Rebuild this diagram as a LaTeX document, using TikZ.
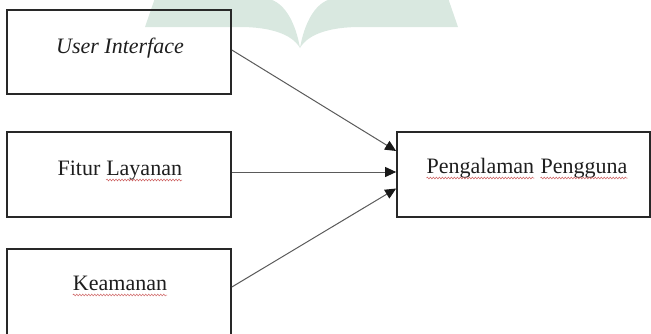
\documentclass[tikz,border=0pt]{standalone}
\usepackage{fontspec}
\setmainfont{Liberation Serif}
\usetikzlibrary{arrows.meta,decorations.pathmorphing}
\definecolor{wm}{RGB}{217,232,224}
\definecolor{wavered}{RGB}{205,95,95}
\definecolor{txt}{RGB}{30,30,30}
\definecolor{edge}{RGB}{40,40,40}
\definecolor{conn}{RGB}{90,90,90}
\definecolor{tip}{RGB}{25,25,25}
\newcommand\redwave[1]{\tikz[baseline=(wd.base)]{\node[inner sep=0pt] (wd) {#1};
  \draw[wavered, line width=0.5pt, decorate, decoration={snake, amplitude=0.9pt, segment length=3pt}]
  ([yshift=-5pt]wd.base west) -- ([yshift=-5pt]wd.base east);}}
\tikzset{
  boxnode/.style={draw=edge, line width=1.7pt, rectangle, inner sep=0pt},
  lbl/.style={anchor=base, inner sep=0pt, font=\fontsize{22}{26}\selectfont, text=txt},
  conn/.style={draw=conn, line width=1pt, -{Triangle[length=11pt,width=10pt,color=tip]}}
}
\begin{document}
\begin{tikzpicture}[x=1pt,y=-1pt]
\useasboundingbox (0,0) rectangle (651,333);
% watermark
\fill[wm] (145,27) -- (155,-2) -- (262,-2) .. controls (285,-2) and (296,25) .. (300,48)
  .. controls (292,34) and (270,27) .. (240,27) -- cycle;
\fill[wm] (458,27) -- (448,-2) -- (338,-2) .. controls (315,-2) and (304,25) .. (300,48)
  .. controls (308,34) and (330,27) .. (360,27) -- cycle;
% boxes
\node[boxnode, minimum width=224pt, minimum height=84pt] (b1) at (119,52) {};
\node[boxnode, minimum width=224pt, minimum height=85pt] (b2) at (119,174.5) {};
\node[boxnode, minimum width=224pt, minimum height=88pt] (b3) at (119,293) {};
\node[boxnode, minimum width=253pt, minimum height=85pt] (b4) at (523.5,174.5) {};
% labels
\node[lbl] (t1) at (120,53) {\itshape User Interface};
\node[lbl] (t2) at (120,175) {Fitur \redwave{Layanan}};
\node[lbl] (t3) at (120,290) {\redwave{Keamanan}};
\node[lbl] (t4) at (527,173) {\redwave{Pengalaman} \redwave{Pengguna}};
% connectors
\draw[conn] ([yshift=2pt]b1.east) -- ([yshift=23.5pt]b4.west);
\draw[conn] ([yshift=2.5pt]b2.east) -- ([yshift=2.5pt]b4.west);
\draw[conn] ([yshift=6pt]b3.east) -- ([yshift=-14pt]b4.west);
\end{tikzpicture}
\end{document}
